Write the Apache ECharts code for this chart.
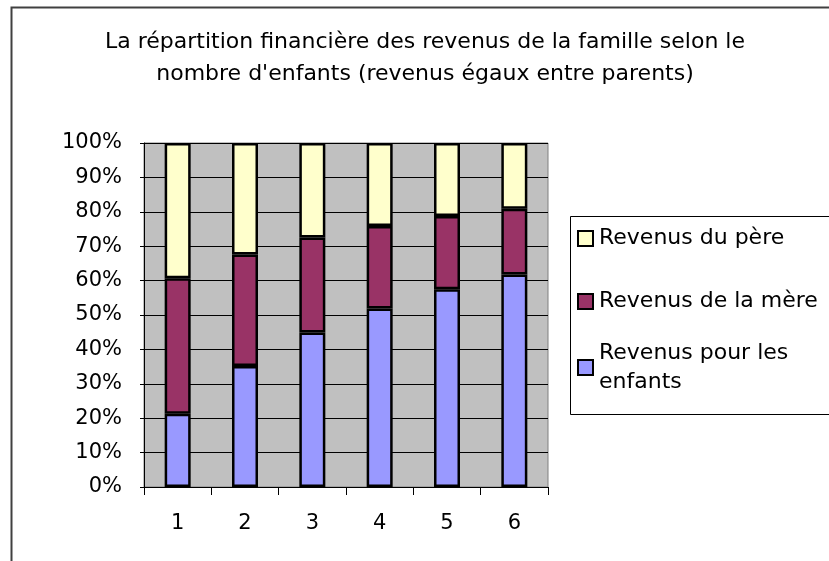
<!DOCTYPE html>
<html>
<head>
<meta charset="utf-8">
<script src="https://cdn.jsdelivr.net/npm/echarts@6/dist/echarts.min.js"></script>
<style>
  html, body { margin: 0; padding: 0; background: #fff; }
  #chart { width: 829px; height: 561px; }
</style>
</head>
<body>
<div id="chart"></div>
<script>
// nombre d'enfants
const categories = ['1', '2', '3', '4', '5', '6'];
// parts en %
const enfants = [21.3, 35.2, 44.9, 51.9, 57.5, 61.8];
const mere = [39.4, 32.4, 27.6, 24.0, 21.3, 19.1];
const pere = [39.3, 32.4, 27.5, 24.1, 21.2, 19.1];
const yTicks = [0, 10, 20, 30, 40, 50, 60, 70, 80, 90, 100];

const FONT = 'DejaVu Sans';
const TITLE = 'La répartition financière des revenus de la famille selon le\nnombre d\'enfants (revenus égaux entre parents)';

const chart = echarts.init(document.getElementById('chart'));

const barStyle = (color) => ({
  color: color,
  borderColor: '#000',
  borderWidth: 2.5,
});

const legendBase = {
  orient: 'vertical',
  left: 577,
  padding: 0,
  icon: 'rect',
  itemWidth: 15,
  itemHeight: 15,
  selectedMode: false,
  itemStyle: { borderColor: '#000', borderWidth: 2 },
  textStyle: { fontFamily: FONT, fontSize: 22, lineHeight: 29, color: '#000', padding: [0, 0, 0, 1] },
};

chart.setOption({
  backgroundColor: '#fff',
  animation: false,
  legend: [
    Object.assign({}, legendBase, { top: 224, data: ['Revenus du père'] }),
    Object.assign({}, legendBase, { top: 287, data: ['Revenus de la mère'] }),
    Object.assign({}, legendBase, {
      top: 324,
      data: ['Revenus pour les\nenfants'],
      textStyle: Object.assign({}, legendBase.textStyle, { padding: [29, 0, 0, 1] }),
    }),
  ],
  grid: {
    left: 144,
    top: 143,
    right: 281,
    bottom: 74,
    show: true,
    backgroundColor: '#c0c0c0',
    borderColor: '#808080',
    borderWidth: 1,
  },
  xAxis: {
    type: 'category',
    data: categories,
    boundaryGap: true,
    axisLine: { lineStyle: { color: '#000', width: 1 } },
    axisTick: { show: true, length: 8, lineStyle: { color: '#000' } },
    axisLabel: { color: '#000', fontFamily: FONT, fontSize: 21, margin: 26 },
  },
  yAxis: {
    type: 'value',
    min: yTicks[0],
    max: yTicks[yTicks.length - 1],
    interval: 10,
    axisLine: { show: true, lineStyle: { color: '#000', width: 1 } },
    axisTick: { show: true, length: 4, lineStyle: { color: '#000' } },
    axisLabel: { color: '#000', fontFamily: FONT, fontSize: 21, margin: 22, formatter: '{value}%' },
    splitLine: { show: true, lineStyle: { color: '#000', width: 1 } },
  },
  series: [
    { name: 'Revenus pour les\nenfants', type: 'bar', stack: 'total', barWidth: 26, data: enfants, itemStyle: barStyle('#9999ff') },
    { name: 'Revenus de la mère', type: 'bar', stack: 'total', barWidth: 26, data: mere, itemStyle: barStyle('#993366') },
    { name: 'Revenus du père', type: 'bar', stack: 'total', barWidth: 26, data: pere, itemStyle: barStyle('#ffffcc') },
  ],
  graphic: [
    // titre
    {
      type: 'text', x: 425, y: 58, silent: true,
      style: { text: TITLE, font: '22px "DejaVu Sans"', fill: '#000', textAlign: 'center', textVerticalAlign: 'middle', lineHeight: 32 },
    },
    // cadre extérieur du graphique
    { type: 'rect', left: 9, top: 5, shape: { width: 840, height: 600 }, style: { fill: 'none', stroke: '#404040', lineWidth: 2 }, silent: true, z: 100 },
    // cadre de la légende
    { type: 'rect', left: 568, top: 214, shape: { width: 300, height: 198 }, style: { fill: 'none', stroke: '#000', lineWidth: 1 }, silent: true, z: 100 },
  ],
});

window.addEventListener('resize', () => chart.resize());
</script>
</body>
</html>
